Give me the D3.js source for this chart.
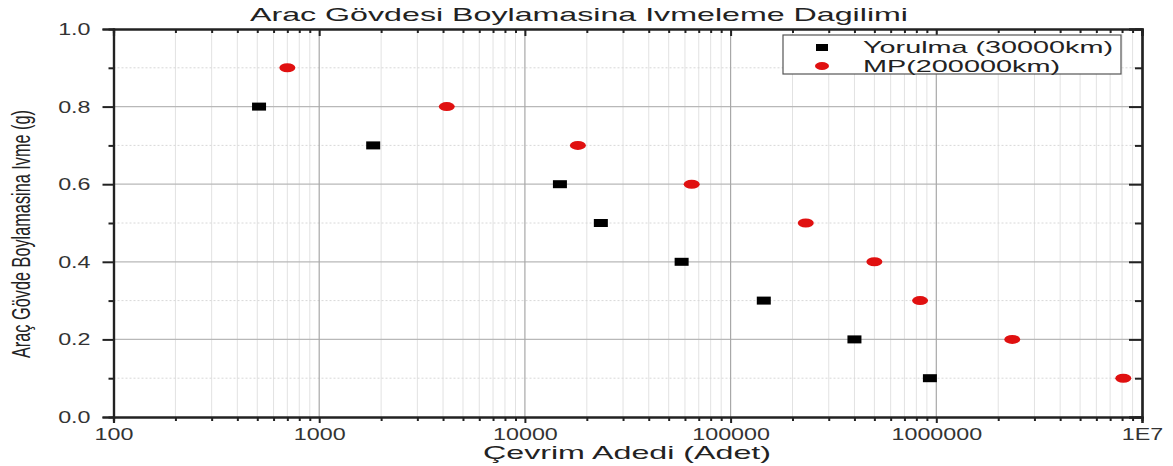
<!DOCTYPE html>
<html>
<head>
<meta charset="utf-8">
<script src="https://cdn.jsdelivr.net/npm/d3@7"></script>
<style>
  body { margin: 0; background: #fff; }
  svg { display: block; font-family: "Liberation Sans", Arial, sans-serif; }
</style>
</head>
<body>
<svg id="chart" width="1173" height="466"></svg>
<script>
// series values (cycle count, acceleration g)
var yorulmaCycles = [510, 1830, 14800, 23400, 57800, 145000, 400000, 931000];
var yorulmaAccel  = [0.8, 0.7, 0.6, 0.5, 0.4, 0.3, 0.2, 0.1];
var mpCycles = [700, 4170, 18100, 64700, 232000, 500000, 834000, 2340000, 8110000];
var mpAccel  = [0.9, 0.8, 0.7, 0.6, 0.5, 0.4, 0.3, 0.2, 0.1];
var xTickValues = [100, 1000, 10000, 100000, 1000000, 10000000];
var xTickLabels = ["100", "1000", "10000", "100000", "1000000", "1E7"];
var yTickValues = [0, 0.2, 0.4, 0.6, 0.8, 1.0];
var seriesNames = ["Yorulma (30000km)", "MP(200000km)"];

var svg = d3.select("#chart");
var pLeft = 113.5, pRight = 1142, pTop = 29, pBottom = 417;

var x = d3.scaleLog().domain([100, 1e7]).range([pLeft, pRight]);
var y = d3.scaleLinear().domain([0, 1]).range([pBottom, pTop]);

// minor log positions
var minorX = [];
for (var e = 2; e < 7; e++) {
	for (var m = 2; m < 10; m++) minorX.push(m * Math.pow(10, e));
}
var minorY = [0.1, 0.3, 0.5, 0.7, 0.9];

var grid = svg.append("g");
grid.selectAll(".mx").data(minorX).enter().append("line")
	.attr("x1", x).attr("x2", x).attr("y1", pTop).attr("y2", pBottom)
	.attr("stroke", "#e2e2e2").attr("stroke-width", 1);
grid.selectAll(".my").data(minorY).enter().append("line")
	.attr("x1", pLeft).attr("x2", pRight).attr("y1", y).attr("y2", y)
	.attr("stroke", "#d8d8d8").attr("stroke-width", 1).attr("stroke-dasharray", "2,2");
grid.selectAll(".My").data(yTickValues.slice(1, 5)).enter().append("line")
	.attr("x1", pLeft).attr("x2", pRight).attr("y1", y).attr("y2", y)
	.attr("stroke", "#b8b8b8").attr("stroke-width", 1.2);
grid.selectAll(".Mx").data(xTickValues.slice(1, 5)).enter().append("line")
	.attr("x1", x).attr("x2", x).attr("y1", pTop).attr("y2", pBottom)
	.attr("stroke", "#a8a8a8").attr("stroke-width", 1.2);

// axes
var xAxisB = d3.axisBottom(x).tickValues(xTickValues).tickSize(6).tickPadding(5)
	.tickFormat(function(d, i){ return xTickLabels[i]; });
var xMinorB = d3.axisBottom(x).tickValues(minorX).tickSize(4).tickFormat("");
var xAxisT = d3.axisTop(x).tickValues(xTickValues).tickSize(-7).tickFormat("");
var xMinorT = d3.axisTop(x).tickValues(minorX).tickSize(-4).tickFormat("");
var yAxisL = d3.axisLeft(y).tickValues(yTickValues).tickSize(11).tickPadding(12)
	.tickFormat(d3.format(".1f"));
var yMinorL = d3.axisLeft(y).tickValues(minorY).tickSize(5).tickFormat("");
var yAxisR = d3.axisRight(y).tickValues(yTickValues).tickSize(-13).tickFormat("");
var yMinorR = d3.axisRight(y).tickValues(minorY).tickSize(-7).tickFormat("");

function styleAxis(g) {
	g.select(".domain").attr("stroke", "#222").attr("stroke-width", 2.2);
	g.selectAll(".tick line").attr("stroke", "#222").attr("stroke-width", 2);
	g.selectAll(".tick text").attr("fill", "#333").attr("font-size", 17)
		.attr("font-family", "Liberation Sans, Arial, sans-serif");
}

svg.append("g").attr("transform", "translate(0," + pBottom + ")").call(xMinorB).call(styleAxis);
svg.append("g").attr("transform", "translate(0," + pBottom + ")").call(xAxisB).call(styleAxis);
svg.append("g").attr("transform", "translate(0," + pTop + ")").call(xMinorT).call(styleAxis);
svg.append("g").attr("transform", "translate(0," + pTop + ")").call(xAxisT).call(styleAxis);
svg.append("g").attr("transform", "translate(" + pLeft + ",0)").call(yMinorL).call(styleAxis);
svg.append("g").attr("transform", "translate(" + pLeft + ",0)").call(yAxisL).call(styleAxis);
svg.append("g").attr("transform", "translate(" + pRight + ",0)").call(yMinorR).call(styleAxis);
svg.append("g").attr("transform", "translate(" + pRight + ",0)").call(yAxisR).call(styleAxis);
svg.selectAll(".tick text").attr("textLength", function(){ return this.getComputedTextLength() * 1.37; })
	.attr("lengthAdjust", "spacingAndGlyphs");

// data
var yorulma = yorulmaCycles.map(function(c, i){ return {c: c, a: yorulmaAccel[i]}; });
var mp = mpCycles.map(function(c, i){ return {c: c, a: mpAccel[i]}; });

svg.append("g").selectAll("rect").data(yorulma).enter().append("rect")
	.attr("x", function(d){ return x(d.c) - 7; })
	.attr("y", function(d){ return y(d.a) - 4; })
	.attr("width", 14).attr("height", 8).attr("fill", "#000");

svg.append("g").selectAll("ellipse").data(mp).enter().append("ellipse")
	.attr("cx", function(d){ return x(d.c); })
	.attr("cy", function(d){ return y(d.a); })
	.attr("rx", 8).attr("ry", 4.5).attr("fill", "#e01010");

// legend
var lg = svg.append("g");
lg.append("rect").attr("x", 783).attr("y", 35).attr("width", 338).attr("height", 39)
	.attr("fill", "#fff").attr("stroke", "#555").attr("stroke-width", 1.2);
lg.append("rect").attr("x", 816).attr("y", 44).attr("width", 12).attr("height", 7).attr("fill", "#000");
lg.append("ellipse").attr("cx", 822).attr("cy", 66).attr("rx", 7).attr("ry", 4).attr("fill", "#e01010");
lg.selectAll("text").data(seriesNames).enter().append("text")
	.attr("x", 863).attr("y", function(d, i){ return 53 + i * 19; })
	.attr("font-size", 17).attr("fill", "#222")
	.attr("textLength", function(d, i){ return i === 0 ? 250 : 197; })
	.attr("lengthAdjust", "spacingAndGlyphs")
	.text(function(d){ return d; });

// titles
svg.append("text").attr("x", 579).attr("y", 21).attr("text-anchor", "middle")
	.attr("font-size", 19).attr("fill", "#222")
	.attr("textLength", 658).attr("lengthAdjust", "spacingAndGlyphs")
	.text("Arac Gövdesi Boylamasina Ivmeleme Dagilimi");

svg.append("text").attr("x", 627).attr("y", 459).attr("text-anchor", "middle")
	.attr("font-size", 19).attr("fill", "#222")
	.attr("textLength", 288).attr("lengthAdjust", "spacingAndGlyphs")
	.text("Çevrim Adedi (Adet)");

svg.append("text").attr("transform", "translate(30,234) rotate(-90) scale(1,1.4)")
	.attr("text-anchor", "middle").attr("font-size", 18).attr("fill", "#222")
	.attr("textLength", 248).attr("lengthAdjust", "spacingAndGlyphs")
	.text("Araç Gövde Boylamasina Ivme (g)");
</script>
</body>
</html>
